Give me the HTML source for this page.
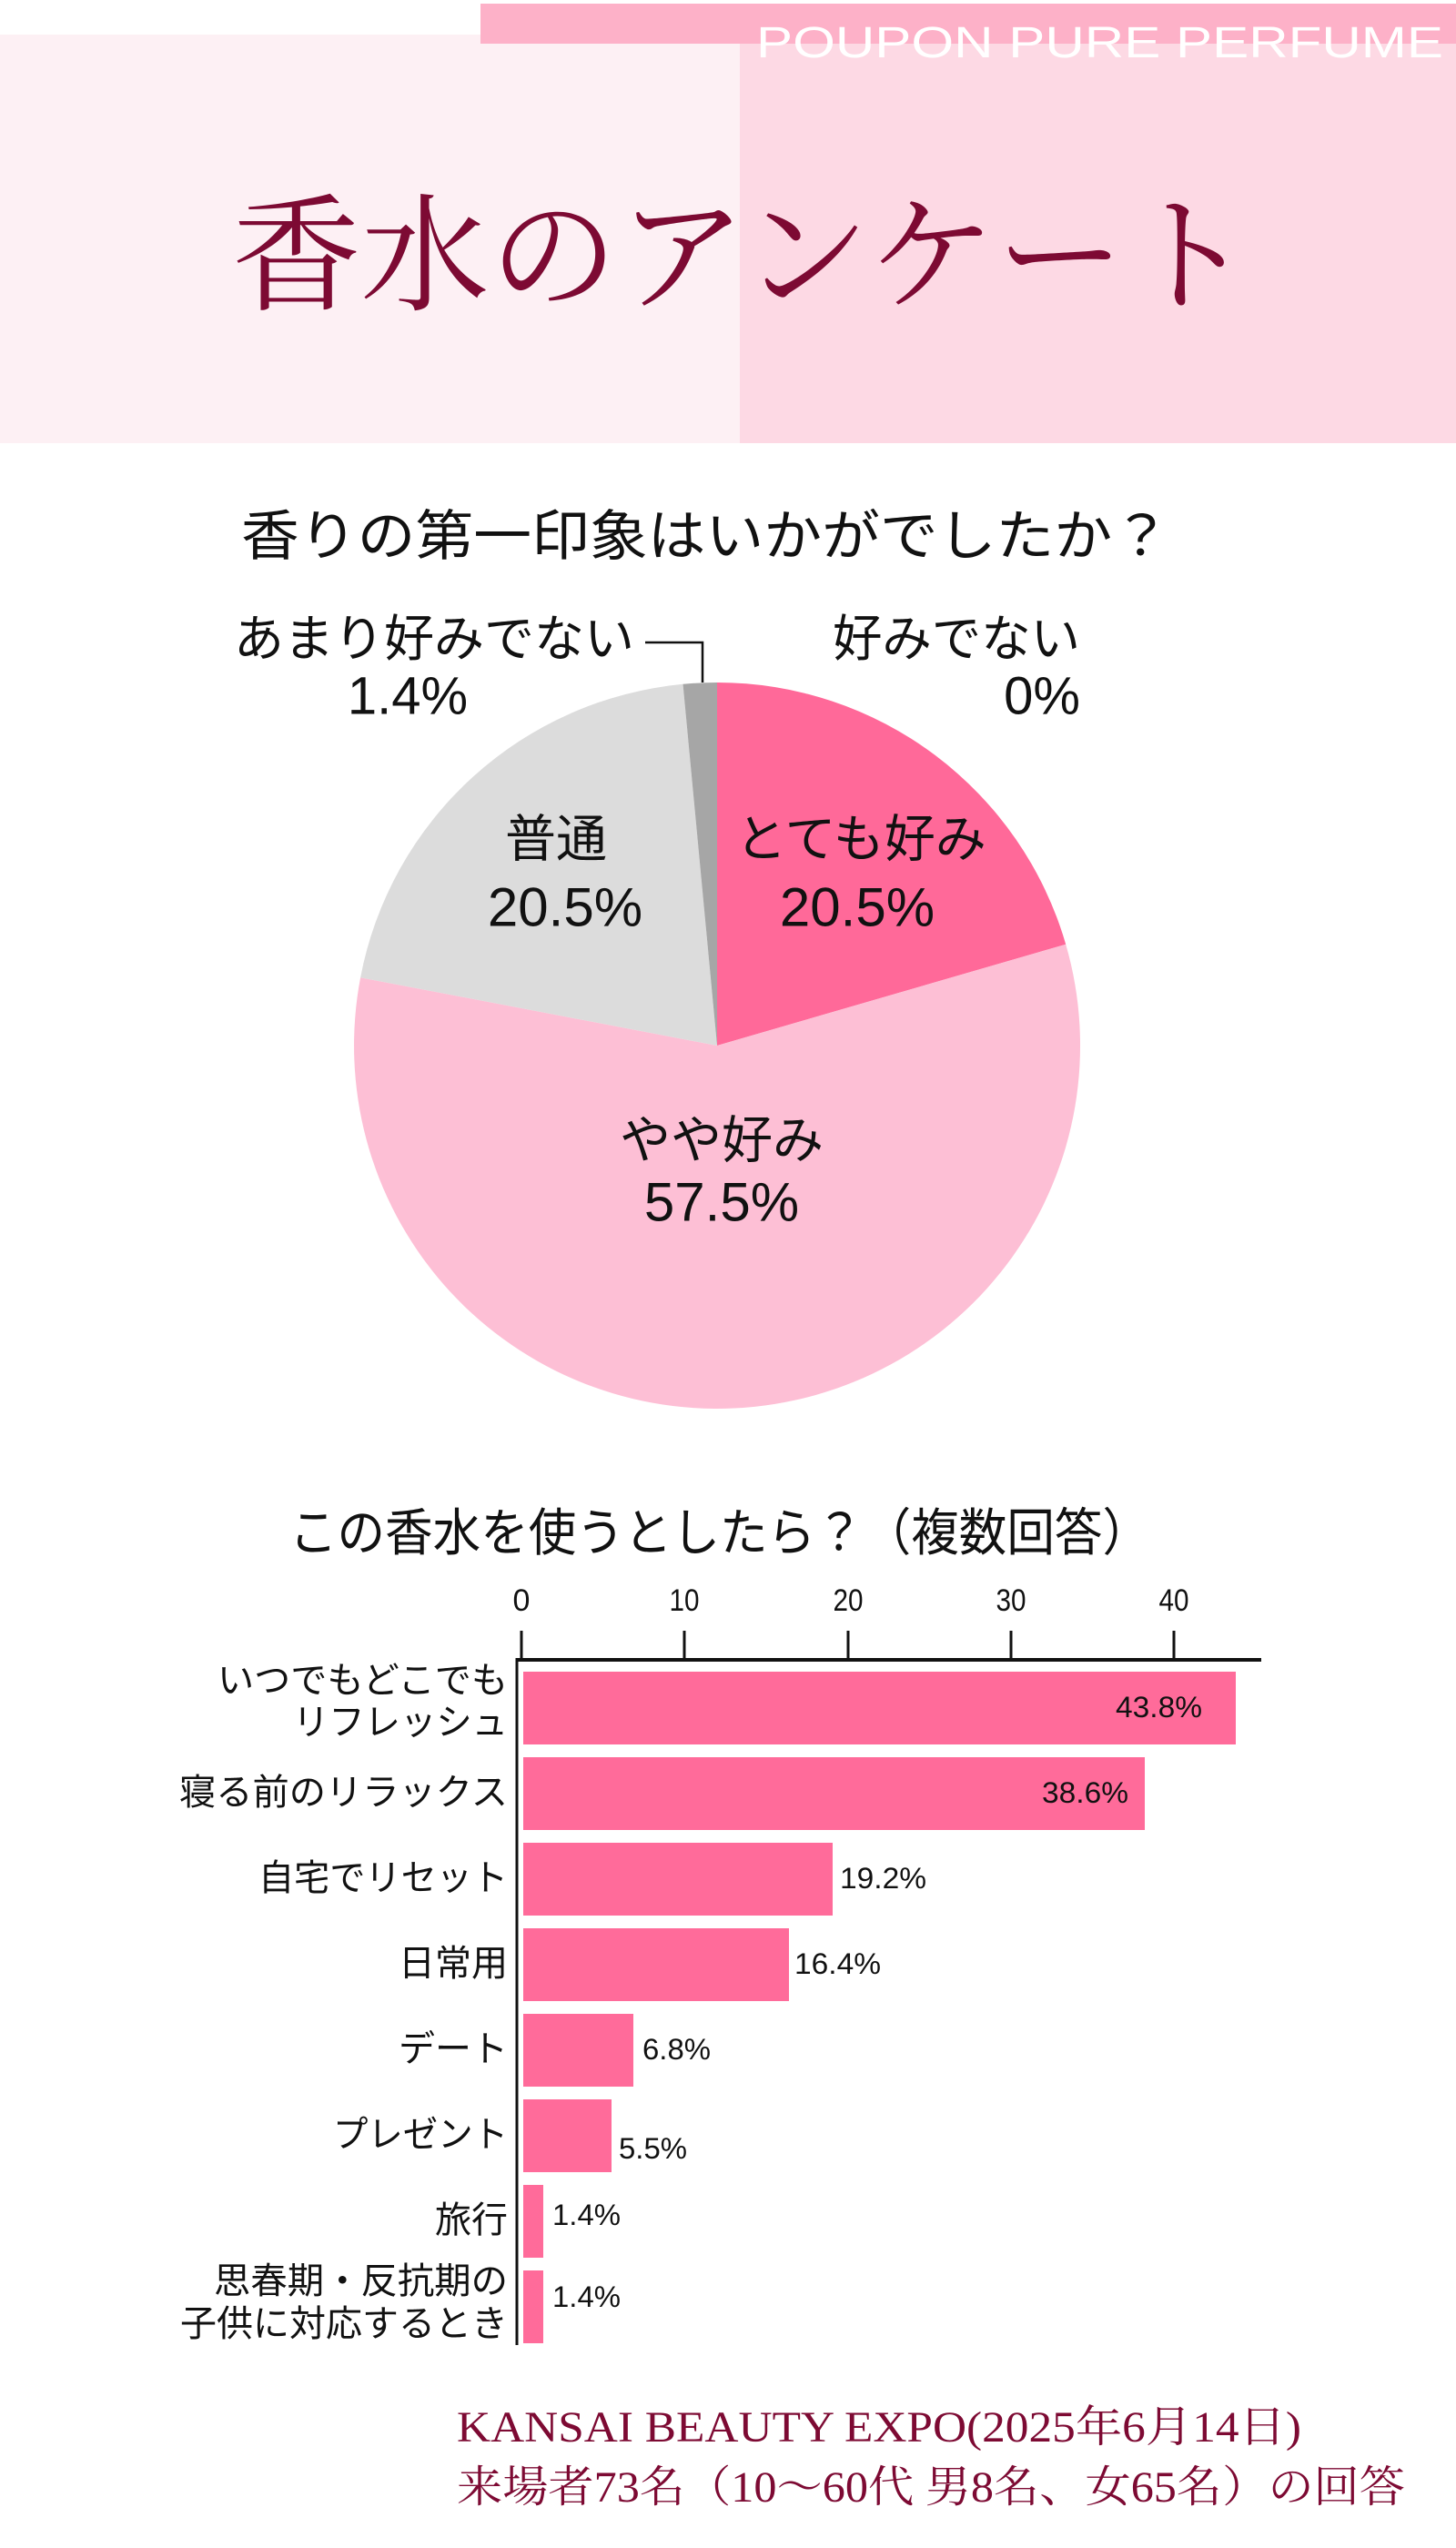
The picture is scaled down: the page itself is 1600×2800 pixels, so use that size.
<!DOCTYPE html>
<html><head><meta charset="utf-8"><style>
html,body{margin:0;padding:0;background:#fff;}
svg{display:block;}
.s{font-family:"Liberation Sans","Noto Sans CJK JP",sans-serif;}
.sf{font-family:"Liberation Serif","Noto Serif CJK JP",serif;}
</style></head><body>
<svg width="1600" height="2800" viewBox="0 0 1600 2800" xmlns="http://www.w3.org/2000/svg">
<rect width="1600" height="2800" fill="#fff"/>
<!-- header -->
<rect x="0" y="38" width="813" height="449" fill="#fdf0f4"/>
<rect x="813" y="48" width="787" height="439" fill="#fdd9e4"/>
<rect x="528" y="4" width="1072" height="44" fill="#fdb1c8"/>
<text class="s" x="831" y="63" font-size="48" fill="#fff" textLength="755" lengthAdjust="spacingAndGlyphs">POUPON PURE PERFUME</text>
<text class="sf" x="255" y="330" font-size="140" fill="#7d0a33" textLength="1122" lengthAdjust="spacingAndGlyphs">香水のアンケート</text>

<!-- pie title -->
<text class="s" x="265" y="610" font-size="60" fill="#111" textLength="1021" lengthAdjust="spacingAndGlyphs">香りの第一印象はいかがでしたか？</text>

<!-- pie -->
<path d="M788,1149 L788,750 A399,399 0 0 1 1171.2,1037.7 Z" fill="#ff6999"/>
<path d="M788,1149 L1171.2,1037.7 A399,399 0 1 1 396.1,1074.2 Z" fill="#fdbfd5"/>
<path d="M788,1149 L396.1,1074.2 A399,399 0 0 1 750.5,751.8 Z" fill="#dcdcdc"/>
<path d="M788,1149 L750.5,751.8 A399,399 0 0 1 788,750 Z" fill="#a6a6a6"/>
<polyline points="709,706 772,706 772,750" fill="none" stroke="#111" stroke-width="2.5"/>

<g class="s" fill="#111" dominant-baseline="central">
<text x="257" y="702" font-size="55" textLength="440" lengthAdjust="spacingAndGlyphs">あまり好みでない</text>
<text x="448" y="765" font-size="58" text-anchor="middle">1.4%</text>
<text x="915" y="702" font-size="55" textLength="272" lengthAdjust="spacingAndGlyphs">好みでない</text>
<text x="1187" y="765" font-size="58" text-anchor="end">0%</text>
<text x="611" y="922" font-size="56" text-anchor="middle">普通</text>
<text x="621" y="997" font-size="60" text-anchor="middle">20.5%</text>
<text x="946" y="922" font-size="56" text-anchor="middle">とても好み</text>
<text x="942" y="997" font-size="60" text-anchor="middle">20.5%</text>
<text x="793" y="1253" font-size="56" text-anchor="middle">やや好み</text>
<text x="793" y="1321" font-size="60" text-anchor="middle">57.5%</text>
</g>

<!-- bar title -->
<text class="s" x="318" y="1704" font-size="56" fill="#111" textLength="946" lengthAdjust="spacingAndGlyphs">この香水を使うとしたら？（複数回答）</text>

<!-- axis -->
<g class="s" fill="#111" font-size="34" text-anchor="middle" dominant-baseline="central">
<text x="573" y="1759">0</text>
<text x="752" y="1759" textLength="33" lengthAdjust="spacingAndGlyphs">10</text>
<text x="932" y="1759" textLength="33" lengthAdjust="spacingAndGlyphs">20</text>
<text x="1111" y="1759" textLength="33" lengthAdjust="spacingAndGlyphs">30</text>
<text x="1290" y="1759" textLength="33" lengthAdjust="spacingAndGlyphs">40</text>
</g>
<g stroke="#111" stroke-width="3">
<line x1="573" y1="1792" x2="573" y2="1824"/>
<line x1="752" y1="1792" x2="752" y2="1824"/>
<line x1="932" y1="1792" x2="932" y2="1824"/>
<line x1="1111" y1="1792" x2="1111" y2="1824"/>
<line x1="1290" y1="1792" x2="1290" y2="1824"/>
<line x1="568" y1="1824" x2="1386" y2="1824" stroke-width="4"/>
<line x1="568" y1="1822" x2="568" y2="2577"/>
</g>

<!-- bars -->
<g fill="#ff6b9a">
<rect x="575" y="1837" width="783" height="80"/>
<rect x="575" y="1931" width="683" height="80"/>
<rect x="575" y="2025" width="340" height="80"/>
<rect x="575" y="2119" width="292" height="80"/>
<rect x="575" y="2213" width="121" height="80"/>
<rect x="575" y="2307" width="97" height="80"/>
<rect x="575" y="2401" width="22" height="80"/>
<rect x="575" y="2495" width="22" height="80"/>
</g>

<g class="s" fill="#111" font-size="40" text-anchor="end" dominant-baseline="central">
<text x="558" y="1847" textLength="319" lengthAdjust="spacingAndGlyphs">いつでもどこでも</text>
<text x="558" y="1893" textLength="236" lengthAdjust="spacingAndGlyphs">リフレッシュ</text>
<text x="558" y="1970" textLength="361" lengthAdjust="spacingAndGlyphs">寝る前のリラックス</text>
<text x="558" y="2064" textLength="274" lengthAdjust="spacingAndGlyphs">自宅でリセット</text>
<text x="558" y="2158">日常用</text>
<text x="558" y="2252">デート</text>
<text x="558" y="2346" textLength="192" lengthAdjust="spacingAndGlyphs">プレゼント</text>
<text x="558" y="2440">旅行</text>
<text x="558" y="2507" textLength="323" lengthAdjust="spacingAndGlyphs">思春期・反抗期の</text>
<text x="558" y="2554" textLength="360" lengthAdjust="spacingAndGlyphs">子供に対応するとき</text>
</g>

<g class="s" fill="#111" font-size="32" dominant-baseline="central">
<text x="1321" y="1876" text-anchor="end" textLength="95" lengthAdjust="spacingAndGlyphs">43.8%</text>
<text x="1240" y="1970" text-anchor="end" textLength="95" lengthAdjust="spacingAndGlyphs">38.6%</text>
<text x="923" y="2064" textLength="95" lengthAdjust="spacingAndGlyphs">19.2%</text>
<text x="873" y="2158" textLength="95" lengthAdjust="spacingAndGlyphs">16.4%</text>
<text x="706" y="2252" textLength="75" lengthAdjust="spacingAndGlyphs">6.8%</text>
<text x="680" y="2361" textLength="75" lengthAdjust="spacingAndGlyphs">5.5%</text>
<text x="607" y="2434" textLength="75" lengthAdjust="spacingAndGlyphs">1.4%</text>
<text x="607" y="2524" textLength="75" lengthAdjust="spacingAndGlyphs">1.4%</text>
</g>

<!-- footer -->
<g class="sf" fill="#7d0a33">
<text x="502" y="2683" font-size="48" textLength="928" lengthAdjust="spacingAndGlyphs">KANSAI BEAUTY EXPO(2025年6月14日)</text>
<text x="502" y="2749" font-size="48" textLength="1042" lengthAdjust="spacingAndGlyphs">来場者73名（10〜60代 男8名、女65名）の回答</text>
</g>
</svg>
</body></html>
